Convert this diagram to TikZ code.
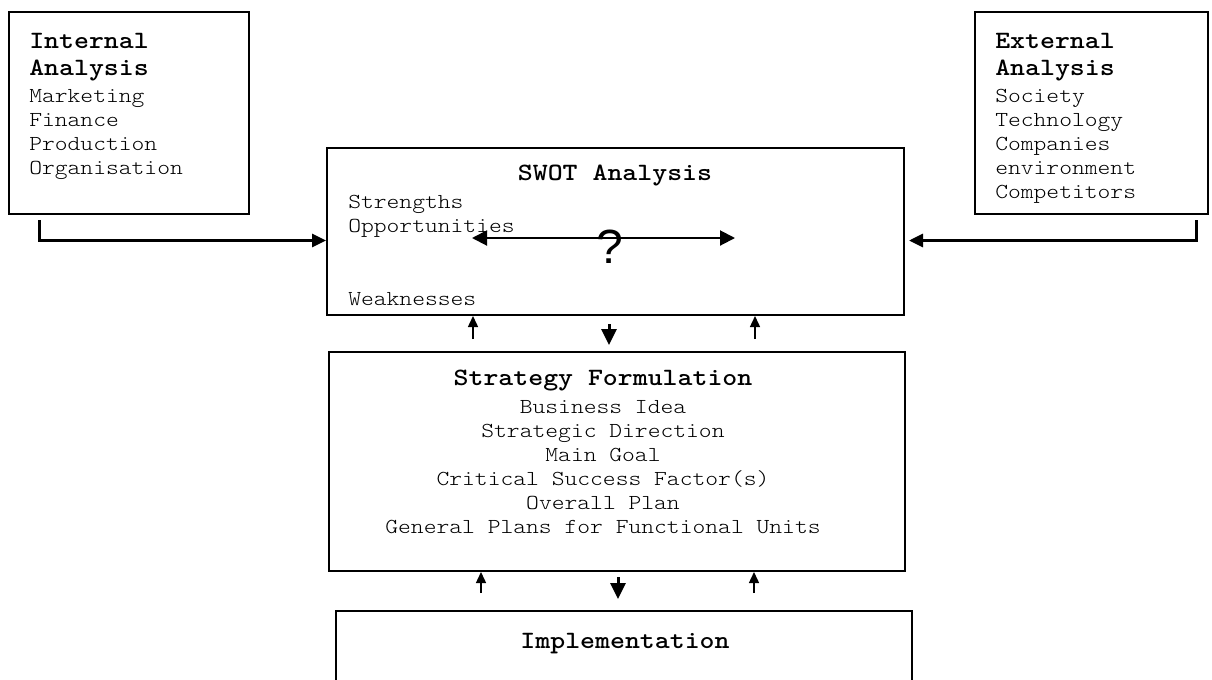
\documentclass[tikz,border=0pt]{standalone}
\usepackage{fontspec}
\newfontfamily\courfont{lmmonolt10-regular}[Extension=.otf,BoldFont=lmmonolt10-bold,FakeStretch=1.143]
\newfontfamily\qmarkfont{Liberation Sans}
\usetikzlibrary{arrows.meta,calc}

\begin{document}
\begin{tikzpicture}[x=0.75pt,y=-0.75pt,
  box/.style={draw,line width=1.5pt,rectangle,inner sep=0pt},
  item/.style={font=\courfont\fontsize{16}{18}\selectfont,inner sep=0pt},
  head/.style={font=\courfont\bfseries\fontsize{18.67}{21}\selectfont,inner sep=0pt},
  feed/.style={line width=2.25pt,-{Triangle[length=10.5pt,width=9.75pt]}},
  both/.style={line width=1.5pt,{Triangle[length=11.25pt,width=11.25pt]}-{Triangle[length=11.25pt,width=11.25pt]}},
  down/.style={line width=2.25pt,-{Triangle[length=12pt,width=11.25pt]}},
  back/.style={line width=1.1pt,-{Triangle[length=8.25pt,width=7.5pt]}}
]
\useasboundingbox (0,0) rectangle (1212,679);
\clip (0,0) rectangle (1212,679);

% boxes
\node[box,minimum width=180pt,minimum height=151.5pt] (int) at (129,113) {};
\node[box,minimum width=174.75pt,minimum height=151.5pt] (ext) at (1091.5,113) {};
\node[box,minimum width=432.75pt,minimum height=125.25pt] (swot) at (615.5,231.5) {};
\node[box,minimum width=432pt,minimum height=164.25pt] (strat) at (617,461.5) {};
\node[box,minimum width=432pt,minimum height=73.5pt] (impl) at (624,660) {};

% internal analysis
\node[head,anchor=base west] (int-t1) at (29,48) {Internal};
\node[head,anchor=base west] (int-t2) at (29,75) {Analysis};
\foreach \t [count=\i from 0] in {Marketing,Finance,Production,Organisation}
  \node[item,anchor=base west] (int-\i) at (29,{102+24*\i}) {\t};

% external analysis
\node[head,anchor=base west] (ext-t1) at (995,48) {External};
\node[head,anchor=base west] (ext-t2) at (995,75) {Analysis};
\foreach \t [count=\i from 0] in {Society,Technology,Companies,environment,Competitors}
  \node[item,anchor=base west] (ext-\i) at (995,{102+24*\i}) {\t};

% SWOT analysis
\node[head,anchor=base] (swot-t) at (615,180) {SWOT Analysis};
\node[item,anchor=base west] (swot-s) at (348,208) {Strengths};
\node[item,anchor=base west] (swot-o) at (348,232) {Opportunities};
\node[item,anchor=base west] (swot-w) at (348,305) {Weaknesses};
\coordinate (sw-l) at (472,238);
\coordinate (sw-r) at (735,238);
\draw[both] (sw-l) -- (sw-r);
\node[font=\qmarkfont\fontsize{36}{40}\selectfont,inner sep=0pt,anchor=base] (qm) at (610,263) {?};

% strategy formulation
\node[head,anchor=base] (strat-t) at (603,385) {Strategy Formulation};
\foreach \t [count=\i from 0] in {Business Idea,Strategic Direction,Main Goal,{Critical Success Factor(s)},Overall Plan,General Plans for Functional Units}
  \node[item,anchor=base] (strat-\i) at (603,{413+24*\i}) {\t};

% implementation
\node[head,anchor=base] (impl-t) at (625,648) {Implementation};

% analysis inputs
\draw[feed] ($(int.south west)+(31,5)$) |- ($(swot.west)+(0,9)$);
\draw[feed] ($(ext.south east)+(-13,5)$) |- ($(swot.east)+(4,9)$);

% links between stages
\coordinate (a1) at (473,0);
\coordinate (a2) at (609,0);
\coordinate (a3) at (755,0);
\draw[back] ([yshift=9pt]strat.north -| a1) -- (swot.south -| a1);
\draw[back] ([yshift=9pt]strat.north -| a3) -- (swot.south -| a3);
\draw[down] ([yshift=-6pt]swot.south -| a2) -- ([yshift=4.5pt]strat.north -| a2);

\coordinate (b1) at (481,0);
\coordinate (b2) at (618,0);
\coordinate (b3) at (754,0);
\draw[back] ([yshift=12.75pt]impl.north -| b1) -- (strat.south -| b1);
\draw[back] ([yshift=12.75pt]impl.north -| b3) -- (strat.south -| b3);
\draw[down] ([yshift=-3.75pt]strat.south -| b2) -- ([yshift=8.25pt]impl.north -| b2);
\end{tikzpicture}
\end{document}
